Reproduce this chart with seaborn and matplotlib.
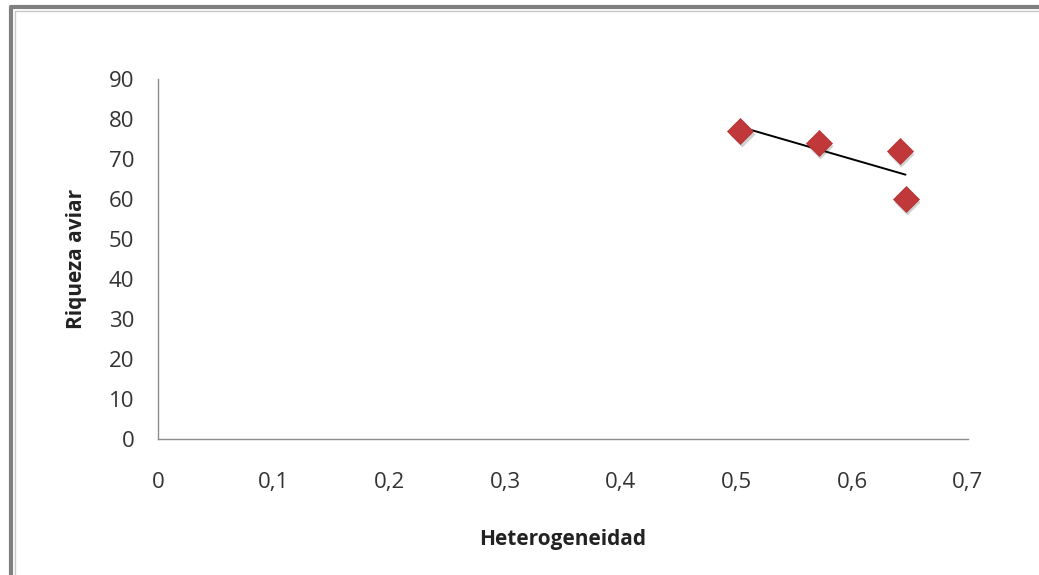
import matplotlib
matplotlib.use("Agg")
import matplotlib.pyplot as plt
import seaborn as sns
import pandas as pd
from matplotlib.lines import Line2D

heterogeneidad = [0.503, 0.571, 0.641, 0.646]
riqueza = [77, 74, 72, 60]
x_ticks = [0, 0.1, 0.2, 0.3, 0.4, 0.5, 0.6, 0.7]
x_tick_labels = ["0", "0,1", "0,2", "0,3", "0,4", "0,5", "0,6", "0,7"]
y_ticks = [0, 10, 20, 30, 40, 50, 60, 70, 80, 90]
y_tick_labels = ["0", "10", "20", "30", "40", "50", "60", "70", "80", "90"]

df = pd.DataFrame({"Heterogeneidad": heterogeneidad, "Riqueza aviar": riqueza})

sns.set_theme(style="white")
plt.rcParams["font.family"] = ["Open Sans", "DejaVu Sans"]

fig = plt.figure(figsize=(10.39, 5.75), dpi=100)
ax = fig.add_axes([158/1039, 1-439/575, (968-158)/1039, (439-79)/575])

# shadow
ax.scatter(df["Heterogeneidad"] + 0.0015, df["Riqueza aviar"] - 0.7, marker="D", s=175,
           color="#000000", alpha=0.18, linewidths=0, zorder=2)
sns.scatterplot(data=df, x="Heterogeneidad", y="Riqueza aviar", marker="D", s=175,
                color="#C0383A", edgecolor="#B03030", linewidth=0.5, ax=ax, zorder=3)
sns.regplot(data=df, x="Heterogeneidad", y="Riqueza aviar", scatter=False, ci=None,
            truncate=True, line_kws={"color": "black", "linewidth": 1.4}, ax=ax)

ax.set_xlim(0, 0.7)
ax.set_ylim(0, 90)
ax.set_xticks(x_ticks)
ax.set_xticklabels(x_tick_labels)
ax.set_yticks(y_ticks)
ax.set_yticklabels(y_tick_labels)
ax.tick_params(axis="both", length=0, labelsize=16, labelcolor="#333333")
ax.tick_params(axis="x", pad=24)
ax.tick_params(axis="y", pad=17)
for s in ["top", "right"]:
    ax.spines[s].set_visible(False)
for s in ["left", "bottom"]:
    ax.spines[s].set_color("#8c8c8c")
    ax.spines[s].set_linewidth(1.0)

ax.set_xlabel("Heterogeneidad", fontsize=15, fontweight="bold", color="#222222", labelpad=26)
ax.set_ylabel("Riqueza aviar", fontsize=15, fontweight="bold", color="#222222", labelpad=16)

# outer frame (figure border)
fig.add_artist(Line2D([11/1039, 11/1039], [0, 1-7/575], transform=fig.transFigure, color="#808080", linewidth=3))
fig.add_artist(Line2D([11/1039, 1], [1-7/575, 1-7/575], transform=fig.transFigure, color="#808080", linewidth=3))
fig.add_artist(Line2D([14.5/1039, 14.5/1039], [0, 1-10.5/575], transform=fig.transFigure, color="#c8c8c8", linewidth=1))
fig.add_artist(Line2D([14.5/1039, 1], [1-10.5/575, 1-10.5/575], transform=fig.transFigure, color="#c8c8c8", linewidth=1))

fig.savefig("out.png", dpi=100)
